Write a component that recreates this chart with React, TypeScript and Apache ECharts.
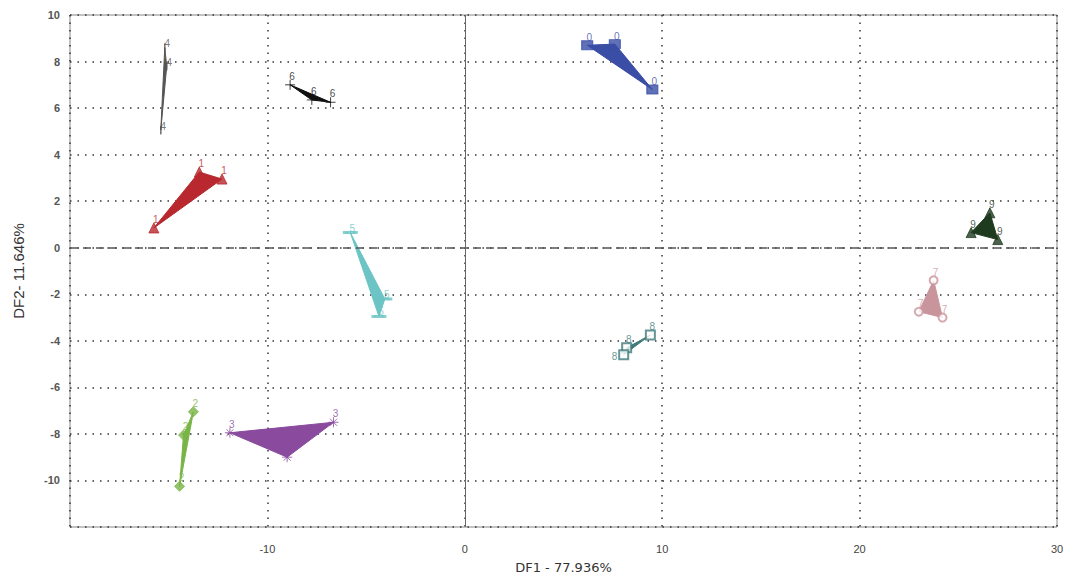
import React, { useEffect, useRef } from "react";
import * as echarts from "echarts";

// Group labels and points (DF1, DF2)
const groupNames = ["0", "1", "2", "3", "4", "5", "6", "7", "8", "9"];
const group0 = [[6.2, 8.7], [7.6, 8.75], [9.5, 6.8]];
const group1 = [[-15.75, 0.85], [-13.45, 3.25], [-12.3, 2.95]];
const group2 = [[-13.75, -7.05], [-14.25, -8.05], [-14.45, -10.25]];
const group3 = [[-11.9, -7.95], [-6.65, -7.5], [-9.0, -9.0]];
const group4 = [[-15.2, 8.6], [-15.1, 7.8], [-15.4, 5.05]];
const group5 = [[-5.8, 0.65], [-4.05, -2.2], [-4.35, -2.95]];
const group6 = [[-8.85, 7.0], [-7.75, 6.35], [-6.8, 6.25]];
const group7 = [[23.75, -1.4], [23.0, -2.75], [24.2, -3.0]];
const group8 = [[9.4, -3.75], [8.2, -4.3], [8.05, -4.6]];
const group9 = [[26.6, 1.5], [25.65, 0.65], [27.0, 0.35]];

const xTicks = [-10, 0, 10, 20, 30];
const yTicks = [-10, -8, -6, -4, -2, 0, 2, 4, 6, 8, 10];

const groupData = [group0, group1, group2, group3, group4, group5, group6, group7, group8, group9];
const colors = ["#3a4ea6", "#b8282e", "#78b446", "#8a4b9e", "#555555", "#6cc4c4", "#111111", "#c9959c", "#3f7b79", "#1f3b1f"];
const PLUS = "path://M0,5L10,5M5,0L5,10";
const STAR = "path://M0,5L10,5M5,0L5,10M1.5,1.5L8.5,8.5M8.5,1.5L1.5,8.5";
const symbols: any[] = ["rect", "triangle", "diamond", STAR, "rect", "rect", PLUS, "emptyCircle", "emptyRect", "triangle"];
const symbolSizes: any[] = [[11, 9], 10, 10, 10, [1, 6], [10, 2], 10, 8, 9, 10];

export default function App() {
  const ref = useRef<HTMLDivElement>(null);
  useEffect(() => {
    if (!ref.current) return;
    const chart = echarts.init(ref.current, null, { renderer: "svg" });
    const series: any[] = [];
    groupData.forEach((pts, gi) => {
      const c = colors[gi];
      series.push({
        type: "custom",
        silent: true,
        data: pts,
        encode: { x: 0, y: 1 },
        renderItem: (params: any, api: any) => {
          if (params.dataIndex !== 0) return { type: "group", children: [] };
          const p = pts.map((d) => api.coord(d));
          return {
            type: "polygon",
            shape: { points: p },
            style: { fill: c, stroke: c, lineWidth: 1 },
          };
        },
        z: 2,
      });
      const isPath = typeof symbols[gi] === "string" && symbols[gi].startsWith("path://");
      const data = pts.map((p, i) => {
        if (gi === 8 && i === 2) {
          return { value: p, label: { position: "left", offset: [0, 2] } };
        }
        return { value: p };
      });
      series.push({
        type: "scatter",
        data,
        symbol: symbols[gi],
        symbolSize: symbolSizes[gi],
        itemStyle: isPath
          ? { color: "rgba(0,0,0,0)", borderColor: c, borderWidth: 1 }
          : { color: c, borderColor: c, borderWidth: 1 },
        label: {
          show: true,
          formatter: groupNames[gi],
          position: gi === 4 ? "right" : "top",
          distance: 1,
          offset: gi === 4 ? [-2, -4] : [2, 3],
          color: c,
          fontSize: 10,
          fontFamily: "Liberation Sans",
        },
        z: 3,
      });
    });
    series.push({
      type: "scatter",
      data: [],
      silent: true,
      markLine: {
        symbol: "none",
        silent: true,
        label: { show: false },
        data: [
          { yAxis: 0, lineStyle: { type: [8, 5], color: "#555", width: 1.5 } },
          { xAxis: 0, lineStyle: { type: "solid", color: "#666", width: 1 } },
        ],
      },
      z: 1,
    });
    chart.setOption({
      animation: false,
      backgroundColor: "#ffffff",
      grid: {
        left: 70, right: 8, top: 15, bottom: 48,
        outerBoundsMode: "none", containLabel: false,
        show: true, borderColor: "#888", borderWidth: 1,
      },
      xAxis: {
        type: "value",
        min: -20,
        max: 30,
        interval: 10,
        name: "DF1 - 77.936%",
        nameLocation: "middle",
        nameGap: 34,
        nameTextStyle: { fontSize: 13, color: "#333", fontFamily: "DejaVu Sans", padding: 0 },
        axisLine: { show: false },
        axisTick: { show: false },
        axisLabel: {
          margin: 16,
          fontSize: 11,
          color: "#444",
          fontFamily: "Liberation Sans",
          formatter: (v: number) => (xTicks.includes(v) ? String(v) : ""),
        },
        splitLine: { show: true, lineStyle: { type: [1.5, 6], color: "#333", width: 1.5 } },
      },
      yAxis: {
        type: "value",
        min: -12,
        max: 10,
        interval: 2,
        name: "DF2- 11.646%",
        nameLocation: "middle",
        nameGap: 44,
        nameTextStyle: { fontSize: 15, color: "#333", fontFamily: "Liberation Sans" },
        axisLine: { show: false },
        axisTick: { show: false },
        axisLabel: {
          margin: 10,
          fontSize: 11,
          fontWeight: "bold",
          color: "#555",
          fontFamily: "Liberation Sans",
          formatter: (v: number) => (yTicks.includes(v) ? String(v) : ""),
        },
        splitLine: { show: true, lineStyle: { type: [1.5, 6], color: "#333", width: 1.5 } },
      },
      series,
    });
    return () => chart.dispose();
  }, []);
  return <div ref={ref} style={{ position: "fixed", left: 0, top: 0, width: 1065, height: 575 }} />;
}
